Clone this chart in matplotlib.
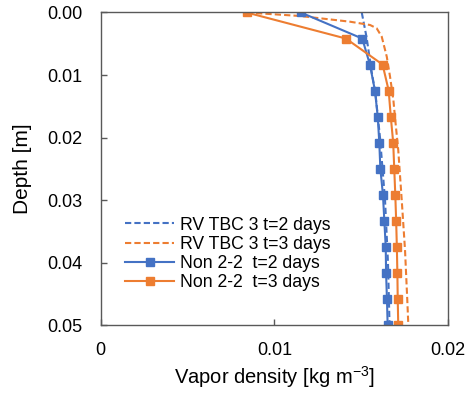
import matplotlib
matplotlib.use("Agg")
import matplotlib.pyplot as plt

plt.rcParams['font.family'] = ['Liberation Sans', 'DejaVu Sans']
plt.rcParams['mathtext.default'] = 'regular'

# Non 2-2 (solid, square markers) depth points
depth_non = [0.0, 0.00417, 0.00833, 0.0125, 0.01667, 0.02083, 0.025,
             0.02917, 0.03333, 0.0375, 0.04167, 0.04583, 0.05]
non_t2 = [0.01151, 0.01505, 0.01549, 0.01578, 0.01594, 0.01603, 0.01609,
          0.01624, 0.01632, 0.0164, 0.01642, 0.01647, 0.01651]
non_t3 = [0.0084, 0.01411, 0.01622, 0.01657, 0.01669, 0.01683, 0.01689,
          0.01695, 0.01700, 0.01704, 0.01707, 0.01709, 0.01712]

# RV TBC 3 (dashed) curves
depth_rv2 = [0.0, 0.004, 0.0095, 0.013, 0.02, 0.03, 0.04, 0.05]
rv_t2 = [0.01502, 0.0153, 0.01559, 0.01581, 0.01607, 0.01636, 0.01653, 0.01662]
depth_rv3 = [0.0, 0.00056, 0.00147, 0.002, 0.00253, 0.00387, 0.00707, 0.0103,
             0.014, 0.0167, 0.022, 0.030, 0.038, 0.046, 0.050]
rv_t3 = [0.0084, 0.01147, 0.01434, 0.0155, 0.01588, 0.01617, 0.01646, 0.01665,
         0.01684, 0.01693, 0.01712, 0.01732, 0.01751, 0.01764, 0.0177]

labels = ['RV TBC 3 t=2 days', 'RV TBC 3 t=3 days',
          'Non 2-2  t=2 days', 'Non 2-2  t=3 days']
xticks = [0, 0.01, 0.02]
xticklabels = ['0', '0.01', '0.02']
yticks = [0.0, 0.01, 0.02, 0.03, 0.04, 0.05]
yticklabels = ['0.00', '0.01', '0.02', '0.03', '0.04', '0.05']

BLUE = '#4472C4'
ORANGE = '#ED7D31'

fig = plt.figure(figsize=(4.71, 3.93), dpi=100)
ax = fig.add_axes([0.2138, 0.173, 0.738, 0.7952])

lw = 1.5
ax.plot(rv_t2, depth_rv2, color=BLUE, lw=lw, dashes=(3, 1.5), label=labels[0])
ax.plot(rv_t3, depth_rv3, color=ORANGE, lw=lw, dashes=(3, 1.5), label=labels[1])
ax.plot(non_t2, depth_non, color=BLUE, lw=lw, marker='s', ms=6, label=labels[2])
ax.plot(non_t3, depth_non, color=ORANGE, lw=lw, marker='s', ms=6, label=labels[3])

ax.set_xlim(0, 0.02)
ax.set_ylim(0.05, 0.0)
ax.set_xticks(xticks)
ax.set_xticklabels(xticklabels)
ax.set_yticks(yticks)
ax.set_yticklabels(yticklabels)
ax.tick_params(direction='in', length=4, width=1, color='#595959',
               labelsize=13)
ax.tick_params(axis='y', pad=13)
ax.tick_params(axis='x', pad=12)
for s in ax.spines.values():
    s.set_color('#595959')
    s.set_linewidth(1.0)

ax.set_xlabel('Vapor density [kg m$^{-3}$]', fontsize=14.5, labelpad=4)
ax.set_ylabel('Depth [m]', fontsize=15, labelpad=11)

ax.legend(loc='upper left', bbox_to_anchor=(0.07, 0.347),
          frameon=False, fontsize=12.7, handlelength=2.8, handletextpad=0.3,
          labelspacing=0.13, borderpad=0, borderaxespad=0, numpoints=1)

fig.savefig('out.png', dpi=100)
